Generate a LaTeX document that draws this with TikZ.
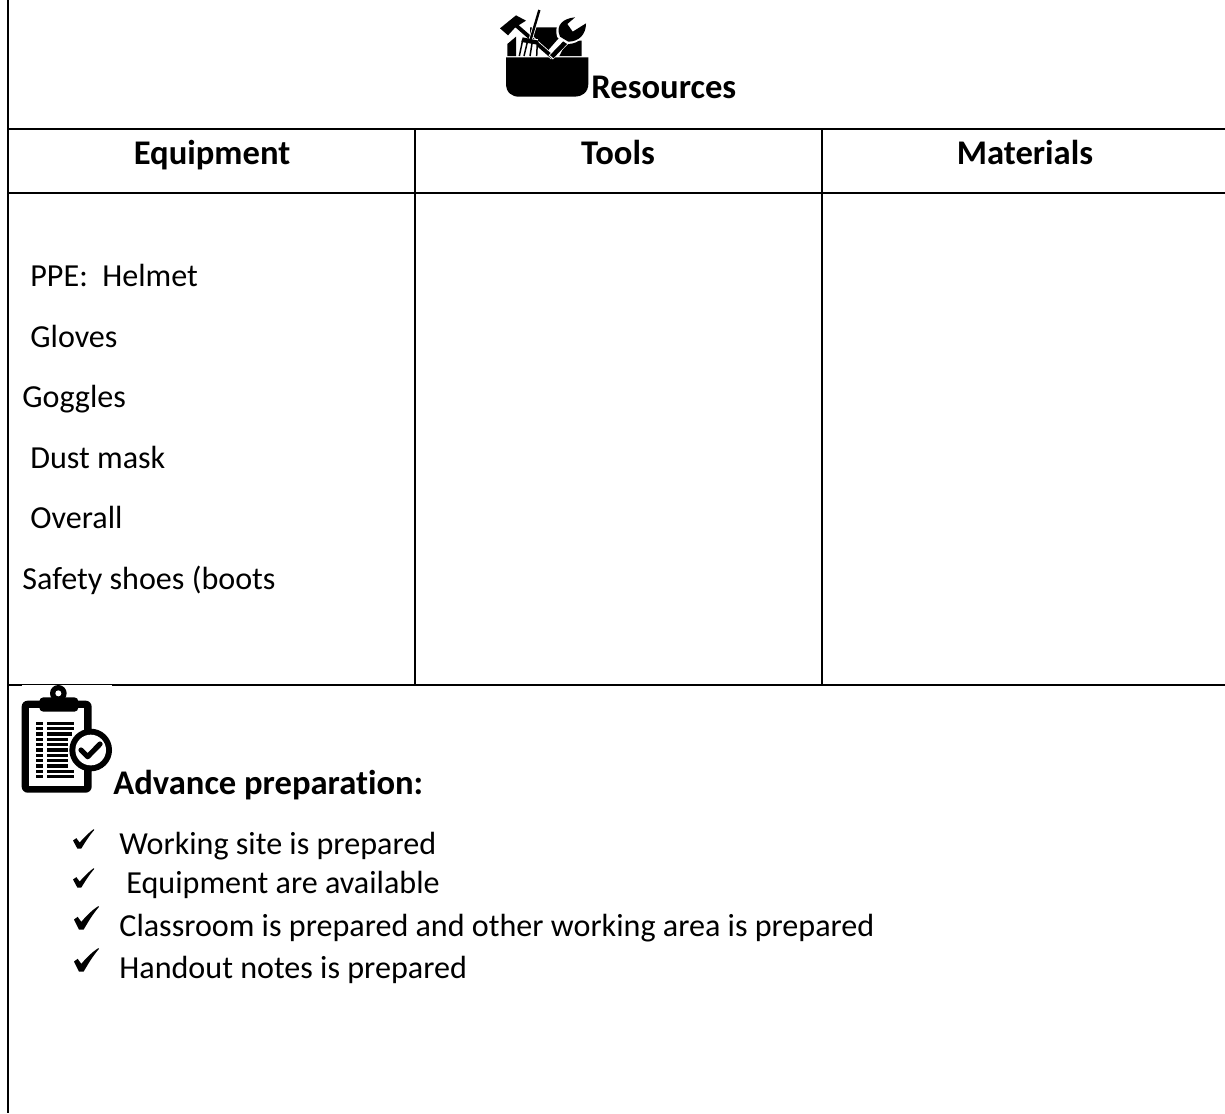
\documentclass[tikz,border=0pt]{standalone}
\usepackage{fontspec}
\setmainfont[Ligatures=NoCommon]{Carlito}
\tikzset{
  rule/.style={line width=1.1pt,black},
  body/.style={anchor=base west,inner sep=0pt,font=\fontsize{16.05pt}{18pt}\selectfont},
  head/.style={anchor=base,inner sep=0pt,font=\fontsize{17.3pt}{20pt}\selectfont\bfseries},
  headw/.style={anchor=base west,inner sep=0pt,font=\fontsize{17.3pt}{20pt}\selectfont\bfseries},
  ink/.style={fill=black,draw=none},
  gap/.style={draw=white,line width=0.7pt}
}
\newcommand{\smalltick}[2]{\fill[ink,shift={(#1,#2)},x=0.1667pt,y=-0.1667pt] (0,0) -- (10,-7) -- (20,6) .. controls (32,-8) and (48,-24) .. (62,-34) -- (64,-32) .. controls (48,-14) and (36,6) .. (25,24) -- (13,24) -- cycle;}
\newcommand{\bigtick}[2]{\fill[ink,shift={(#1,#2)},x=0.1667pt,y=-0.1667pt] (0,0) -- (11,-8) -- (22,7) .. controls (36,-10) and (56,-30) .. (73,-40) -- (75,-38) .. controls (56,-16) and (42,8) .. (29,30) -- (15,30) -- cycle;}
\begin{document}
\begin{tikzpicture}[x=0.5pt,y=-0.5pt]
\useasboundingbox (0,0) rectangle (1225,1113);
\fill[white] (0,0) rectangle (1225,1113);
% table rules
\draw[rule] (8,0) -- (8,1113);
\draw[rule] (8,129) -- (1225,129);
\draw[rule] (8,193) -- (1225,193);
\draw[rule] (8,685) -- (1225,685);
\draw[rule] (415,129) -- (415,685);
\draw[rule] (822,129) -- (822,685);
% toolbox icon
\begin{scope}[shift={(480,0)},x=0.1667pt,y=-0.1667pt]
  \fill[ink] (78,172) -- (325,172) -- (325,250) .. controls (325,278) and (305,290) .. (285,290) -- (118,290) .. controls (95,290) and (78,278) .. (78,250) -- cycle;
  \fill[ink] (82,132) -- (108,110) -- (108,168) -- (82,168) -- cycle;
  \fill[ink] (150,82) -- (240,82) -- (240,110) -- (205,150) -- (150,100) -- cycle;
  \fill[ink] (262,122) -- (305,122) -- (305,168) -- (238,168) -- cycle;
  % hammer
  \fill[ink] (60,85) -- (108,46) -- (138,62) -- (122,72) -- (104,84) -- (84,106) -- cycle;
  \draw[white,line width=2.6pt] (112,80) -- (218,172);
  \draw[black,line width=1.9pt] (108,76) -- (218,172);
  % fork
  \draw[white,line width=2pt] (178,30) -- (152,118);
  \draw[black,line width=1.2pt] (178,30) -- (152,118);
  \fill[white] (112,118) rectangle (175,168);
  \fill[ink] (128,112) -- (176,122) -- (172,134) -- (124,126) -- cycle;
  \draw[black,line width=0.75pt] (128,120) -- (118,168) (143,122) -- (132,168) (157,124) -- (150,168) (172,126) -- (170,168);
  % wrench
  \draw[white,line width=3pt] (212,172) -- (275,108);
  \draw[black,line width=2.3pt] (215,170) -- (275,108);
  \fill[white] (232,112) .. controls (218,70) and (250,48) .. (292,46) -- (270,72) -- (280,88) -- (324,62) .. controls (325,105) and (298,132) .. (262,132) -- cycle;
  \fill[ink] (240,110) .. controls (225,75) and (250,55) .. (285,52) -- (262,72) -- (278,95) -- (318,70) .. controls (318,105) and (295,125) .. (265,125) -- cycle;
\end{scope}
% clipboard icon
\draw[gap] (22,686.1) -- (112,686.1);
\begin{scope}[shift={(0,670)},x=0.1667pt,y=-0.1667pt]
  \fill[ink,rounded corners=3pt] (65,92) rectangle (275,368);
  \fill[white] (88,114) rectangle (253,348);
  \fill[ink,rounded corners=2pt] (118,82) rectangle (235,125);
  \fill[ink] (175,70) circle (25);
  \fill[white] (175,70) circle (9);
  \foreach \yy/\xe in {160/222,176/222,192/215,208/205,224/205,240/205,256/205,272/205,288/205,304/222,320/222}{
    \fill[ink] (108,\yy-5) rectangle (130,\yy+5);
    \fill[ink] (142,\yy-5) rectangle (\xe,\yy+5);
  }
  \fill[ink] (272,240) circle (64);
  \fill[white] (272,240) circle (46);
  \draw[black,line width=2.6pt,line cap=round,line join=round] (243,240) -- (263,260) -- (300,222);
\end{scope}
% headings
\node[headw] (res) at (591,98) {Resources};
\node[head] (eq) at (212,164) {Equipment};
\node[head] (tl) at (618,164) {Tools};
\node[head] (mt) at (1025,164) {Materials};
% equipment list
\node[body] (a) at (30,286) {PPE:\ \ Helmet};
\node[body] (b) at (30,347) {Gloves};
\node[body] (c) at (22,407) {Goggles};
\node[body] (d) at (30,468) {Dust mask};
\node[body] (e) at (30,528) {Overall};
\node[body] (f) at (22,589) {Safety shoes (boots};
% advance preparation
\node[headw] (adv) at (113,794) {Advance preparation:};
\smalltick{73}{840.5}
\smalltick{73}{879.5}
\bigtick{74}{919.5}
\bigtick{74}{961.5}
\node[body] (p1) at (119,854) {Working site is prepared};
\node[body] (p2) at (126,893) {Equipment are available};
\node[body] (p3) at (119,936) {Classroom is prepared and other working area is prepared};
\node[body] (p4) at (119,978) {Handout notes is prepared};
\end{tikzpicture}
\end{document}
